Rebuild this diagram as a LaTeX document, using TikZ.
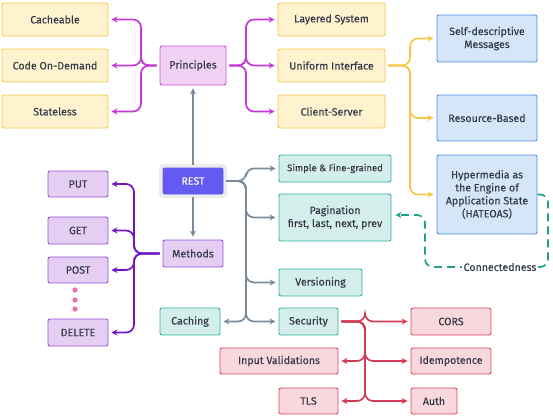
\documentclass[tikz,border=0pt]{standalone}
\usepackage{fontspec}
\setmainfont{Fira Sans}[FakeBold=0.25]
\usetikzlibrary{arrows.meta}
\definecolor{txt}{HTML}{353B48}
\definecolor{yfill}{HTML}{FFF3CF}
\definecolor{ydraw}{HTML}{F5C84C}
\definecolor{pfill}{HTML}{F1D2F4}
\definecolor{pdraw}{HTML}{CC4FD8}
\definecolor{pline}{HTML}{C23BD4}
\definecolor{bfill}{HTML}{D5E6F8}
\definecolor{bdraw}{HTML}{4A90E2}
\definecolor{mfill}{HTML}{E4CFF3}
\definecolor{mdraw}{HTML}{9B50D6}
\definecolor{mline}{HTML}{7213C6}
\definecolor{tfill}{HTML}{D4EFEB}
\definecolor{tdraw}{HTML}{2DB3A0}
\definecolor{tline}{HTML}{1FA08A}
\definecolor{rfill}{HTML}{F8D8DD}
\definecolor{rdraw}{HTML}{D9475D}
\definecolor{rline}{HTML}{D23C56}
\definecolor{gline}{HTML}{7B8A99}
\definecolor{restfill}{HTML}{6459F0}
\definecolor{dotc}{HTML}{F06BAF}
\tikzset{
  box/.style={rectangle, rounded corners=2pt, line width=0.9pt, text=txt, align=center, inner sep=1pt, font=\fontsize{10.6}{13}\selectfont},
  ybox/.style={box, fill=yfill, draw=ydraw},
  pbox/.style={box, fill=pfill, draw=pdraw},
  bbox/.style={box, fill=bfill, draw=bdraw},
  mbox/.style={box, fill=mfill, draw=mdraw},
  tbox/.style={box, fill=tfill, draw=tdraw},
  rbox/.style={box, fill=rfill, draw=rdraw},
  conn/.style={line width=1.7pt, rounded corners=8pt, -{Stealth[length=6pt,width=6pt]}},
  sz/.style 2 args={minimum width=#1pt, minimum height=#2pt},
}
\begin{document}
\begin{tikzpicture}[x=1pt,y=-1pt]
\useasboundingbox (0,0) rectangle (553,418);
% yellow
\node[ybox, sz={106}{33}] (cache) at (55,19.5) {Cacheable};
\node[ybox, sz={106}{33}] (code) at (55,65.5) {Code On-Demand};
\node[ybox, sz={106}{33}] (state) at (55,111.5) {Stateless};
\node[pbox, sz={66}{39}] (princ) at (193,65.5) {Principles};
\node[ybox, sz={107}{33}] (layer) at (331.5,19.5) {Layered System};
\node[ybox, sz={107}{33}] (unif) at (331.5,65.5) {Uniform Interface};
\node[ybox, sz={107}{33}] (client) at (331.5,111.5) {Client-Server};
% blue
\node[bbox, sz={100}{47}] (self) at (487,38.5) {Self-descriptive\\Messages};
\node[bbox, sz={100}{46}] (res) at (487,118) {Resource-Based};
\node[bbox, sz={100}{79}] (hate) at (487,194.5) {Hypermedia as\\the Engine of\\Application State\\(HATEOAS)};
% REST
\fill[fill=gray!15, rounded corners=4pt] (159,164) rectangle (227,198);
\node[box, fill=restfill, draw=restfill, text=white, sz={60}{26}] (rest) at (193,181) {REST};
% methods
\node[mbox, sz={60}{27}] (meth) at (193,253.5) {Methods};
\node[mbox, sz={60}{26}] (put) at (78,184) {PUT};
\node[mbox, sz={60}{27}] (get) at (78,230.5) {GET};
\node[mbox, sz={60}{26}] (post) at (78,270) {POST};
\node[mbox, sz={60}{27}] (del) at (78,332.5) {DELETE};
\foreach \yy in {290,300,309} \fill[dotc] (75,\yy) circle (2.6pt);
% teal
\node[tbox, sz={112}{27}, font=\fontsize{9.5}{11}\selectfont] (simple) at (335,168.5) {Simple \& Fine-grained};
\node[tbox, sz={112}{47}] (pag) at (335,217.5) {Pagination\\first, last, next, prev};
\node[tbox, sz={83}{27}] (ver) at (320.5,282.5) {Versioning};
\node[tbox, sz={59}{27}] (sec) at (308.5,321.5) {Security};
\node[tbox, sz={60}{27}] (cach) at (190,321.5) {Caching};
% red
\node[rbox, sz={80}{27}] (cors) at (451,321.5) {CORS};
\node[rbox, sz={80}{26}] (idem) at (451,361) {Idempotence};
\node[rbox, sz={46}{26}] (auth) at (434,401) {Auth};
\node[rbox, sz={118}{26}] (inval) at (279,361) {Input Validations};
\node[rbox, sz={59}{26}] (tls) at (308.5,401) {TLS};
% coordinates
\coordinate (pl) at (141,65.5);
\coordinate (pr) at (246,65.5);
\coordinate (ur) at (410,65.5);
\coordinate (rr) at (246,181);
\coordinate (ml) at (134,253.5);
\coordinate (sr) at (365,321.5);
% principles connectors
\foreach \t in {cache,code,state}
  \draw[conn, pline, shorten <=3pt, shorten >=3pt] (princ.west) -- (pl) |- (\t.east);
\foreach \t in {layer,unif,client}
  \draw[conn, pline, shorten <=3pt, shorten >=3pt] (princ.east) -- (pr) |- (\t.west);
% uniform
\foreach \t in {self,res,hate}
  \draw[conn, ydraw, shorten <=3pt, shorten >=3pt] (unif.east) -- (ur) |- (\t.west);
% rest
\draw[conn, gline, shorten <=3pt, shorten >=3pt] (rest.north) -- (princ.south);
\draw[conn, gline, shorten <=3pt, shorten >=3pt] (rest.south) -- (meth.north);
\foreach \t in {simple,pag,ver,sec}
  \draw[conn, gline, shorten <=3pt, shorten >=3pt] (rest.east) -- (rr) |- (\t.west);
\draw[conn, gline, shorten <=3pt, shorten >=3pt] (rest.east) -- (rr) |- (cach.east);
% methods
\foreach \t in {put,get,post,del}
  \draw[conn, mline, shorten <=3pt, shorten >=3pt] (meth.west) -- (ml) |- (\t.east);
% security
\foreach \t in {cors,idem,auth}
  \draw[conn, rline, shorten <=3pt, shorten >=3pt] (sec.east) -- (sr) |- (\t.west);
\foreach \t in {inval,tls}
  \draw[conn, rline, shorten <=3pt, shorten >=3pt] (sec.east) -- (sr) |- (\t.east);
% dashed
\coordinate (h1) at (548,194.5);
\coordinate (h2) at (548,267);
\coordinate (h3) at (425,267);
\coordinate (h4) at (425,215);
\draw[conn, tline, dash pattern=on 8pt off 5pt, shorten >=4pt] (hate.east) -- (h1) -- (h2) -- (h3) -- (h4) -- (h4 -| pag.east);
\node[fill=white, text=txt, inner sep=1.5pt, font=\fontsize{10.6}{12}\selectfont] (conn) at (500,267) {Connectedness};
\end{tikzpicture}
\end{document}
